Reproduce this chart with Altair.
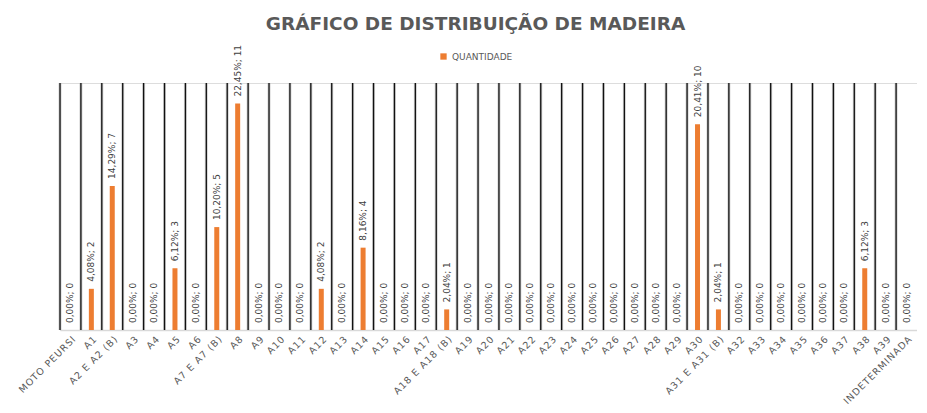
import altair as alt
import pandas as pd

categories = ["MOTO PEURSI", "A1", "A2 E A2 (B)", "A3", "A4", "A5", "A6", "A7 E A7 (B)",
              "A8", "A9", "A10", "A11", "A12", "A13", "A14", "A15", "A16", "A17",
              "A18 E A18 (B)", "A19", "A20", "A21", "A22", "A23", "A24", "A25", "A26",
              "A27", "A28", "A29", "A30", "A31 E A31 (B)", "A32", "A33", "A34", "A35",
              "A36", "A37", "A38", "A39", "INDETERMINADA"]
values = [0, 2, 7, 0, 0, 3, 0, 5,
          11, 0, 0, 0, 2, 0, 4, 0, 0, 0,
          1, 0, 0, 0, 0, 0, 0, 0, 0,
          0, 0, 0, 10, 1, 0, 0, 0, 0,
          0, 0, 3, 0, 0]
series_name = "QUANTIDADE"

total = sum(values)
labels = [f"{v / total * 100:.2f}".replace(".", ",") + f"%; {v}" for v in values]

df = pd.DataFrame({"cat": categories, "val": values, "lab": labels})
df["serie"] = series_name
df["zero"] = 0
df["top"] = 12

xsort = categories
yscale = alt.Scale(domain=[0, 12])

xaxis = alt.Axis(labelAngle=-45, labelFont="DejaVu Sans", labelFontSize=9.5,
                 labelColor="#595959", ticks=False, labelPadding=4,
                 domainColor="#d9d9d9", domainWidth=1.5, grid=False,
                 labelOverlap=False,
                 labelExpr="join(split(datum.label, ''), '\u200a')")

base = alt.Chart(df)

shadow = base.mark_rule(color="#9a9a9a", strokeWidth=3, opacity=0.45).encode(
    x=alt.X("cat:N", sort=xsort, bandPosition=0, title=None, axis=xaxis),
    y=alt.Y("zero:Q", scale=yscale, axis=None),
    y2="top:Q",
)
rules = base.mark_rule(color="#111111", strokeWidth=1.3).encode(
    x=alt.X("cat:N", sort=xsort, bandPosition=0),
    y=alt.Y("zero:Q", scale=yscale),
    y2="top:Q",
)
bars = base.mark_bar(size=5).encode(
    x=alt.X("cat:N", sort=xsort),
    y=alt.Y("val:Q", scale=yscale),
    color=alt.Color("serie:N", scale=alt.Scale(range=["#ED7D31"]),
                    legend=alt.Legend(title=None, orient="none", legendX=379, legendY=-31,
                                      direction="horizontal", symbolType="square",
                                      symbolSize=40, labelFont="DejaVu Sans",
                                      labelFontSize=9, labelColor="#595959",
                                      symbolStrokeWidth=0)),
)
text = base.mark_text(angle=270, align="left", baseline="middle", dx=7,
                      font="DejaVu Sans", fontSize=9, color="#404040").encode(
    x=alt.X("cat:N", sort=xsort),
    y=alt.Y("val:Q", scale=yscale),
    text="lab:N",
)

chart = alt.layer(shadow, rules, bars, text).properties(
    width=857, height=247,
    autosize=alt.AutoSizeParams(type="none"),
    padding={"left": 52, "top": 75, "right": 0, "bottom": 75},
    title=alt.TitleParams("GRÁFICO DE DISTRIBUIÇÃO DE MADEIRA", font="DejaVu Sans",
                          fontSize=18.5, fontWeight="bold", color="#595959",
                          anchor="middle", dx=-13, offset=11),
).configure_view(stroke=None).configure(background="white")

chart.save("out.html", embed_options={"renderer": "svg", "actions": False})
